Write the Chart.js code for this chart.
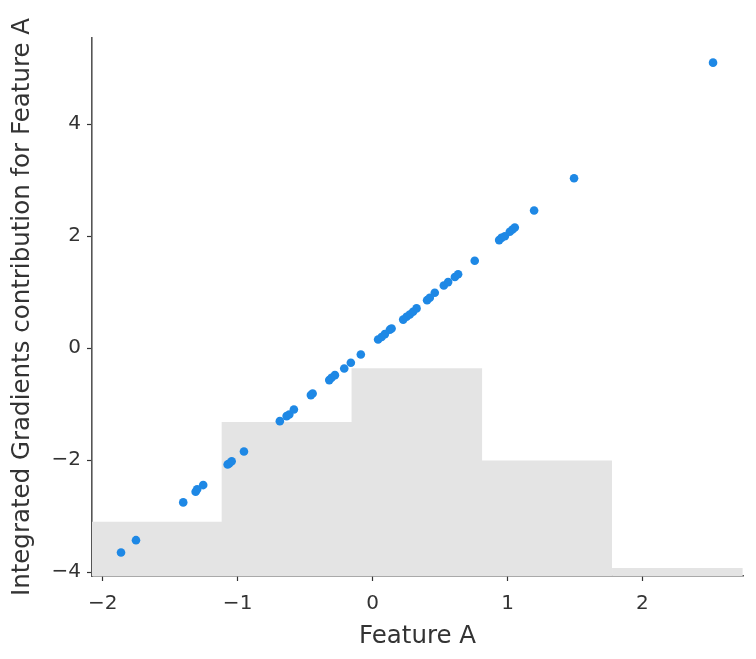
<!DOCTYPE html>
<html>
<head>
<meta charset="utf-8">
<script src="https://cdn.jsdelivr.net/npm/chart.js@4.4.1/dist/chart.umd.min.js"></script>
<style>
  html, body { margin: 0; padding: 0; background: #fff; }
  #wrap { width: 756px; height: 659px; }
</style>
</head>
<body>
<div id="wrap"><canvas id="chart" width="756" height="659"></canvas></div>
<script>
// Feature A values and their Integrated Gradients contributions
const featureA = [
  -1.864, -1.753, -1.403, -1.311, -1.300, -1.255, -1.074, -1.062, -1.044, -0.953,
  -0.687, -0.637, -0.617, -0.583, -0.457, -0.444, -0.321, -0.304, -0.279, -0.210,
  -0.161, -0.087, 0.041, 0.067, 0.091, 0.128, 0.141, 0.227, 0.252, 0.276,
  0.300, 0.326, 0.404, 0.424, 0.461, 0.528, 0.560, 0.610, 0.634, 0.757,
  0.938, 0.955, 0.980, 1.017, 1.037, 1.054, 1.197, 1.493, 2.523
];
const contribution = [
  -3.65, -3.43, -2.755, -2.566, -2.52, -2.446, -2.077, -2.06, -2.02, -1.845,
  -1.304, -1.214, -1.185, -1.095, -0.839, -0.81, -0.571, -0.53, -0.482, -0.363,
  -0.262, -0.113, 0.155, 0.20, 0.25, 0.33, 0.35, 0.51, 0.56, 0.60,
  0.65, 0.71, 0.857, 0.90, 0.99, 1.12, 1.18, 1.27, 1.32, 1.56,
  1.93, 1.97, 2.0, 2.08, 2.12, 2.155, 2.46, 3.036, 5.10
];

// background histogram of Feature A
const binEdges = [-2.079, -1.116, -0.153, 0.809, 1.772, 2.745];
const binCounts = [7, 20, 27, 15, 1];
const sampleCount = 70;

const xTicks = [-2, -1, 0, 1, 2];
const yTicks = [-4, -2, 0, 2, 4];
const yRange = [-4.07, 5.54];

const minus = v => String(v).replace('-', '\u2212');
const tickFont = { family: 'DejaVu Sans', size: 20 };
const titleFont = { family: 'DejaVu Sans', size: 24.5 };

const points = featureA.map((x, i) => ({ x: x, y: contribution[i] }));
const bars = binCounts.map((c, i) => ({ x: (binEdges[i] + binEdges[i + 1]) / 2, y: c }));

new Chart(document.getElementById('chart'), {
    type: 'scatter',
    data: {
        datasets: [
            {
                type: 'bar',
                data: bars,
                yAxisID: 'y2',
                backgroundColor: 'rgb(228,228,228)',
                barPercentage: 1,
                categoryPercentage: 1,
                borderWidth: 0,
                order: 2
            },
            {
                data: points,
                backgroundColor: '#1e88e5',
                borderWidth: 0,
                pointRadius: 4.3,
                order: 1
            }
        ]
    },
    options: {
        responsive: false,
        animation: false,
        layout: { padding: { top: 38, right: 13, left: 0, bottom: 0 } },
        plugins: { legend: { display: false }, tooltip: { enabled: false } },
        scales: {
            x: {
                type: 'linear',
                offset: false,
                min: binEdges[0],
                max: binEdges[binEdges.length - 1],
                afterBuildTicks: s => { s.ticks = xTicks.map(v => ({ value: v })); },
                afterFit: s => { s.height = 83; },
                grid: { offset: false, drawOnChartArea: false, color: '#333', tickLength: 5, tickWidth: 1.2 },
                border: { color: '#555', width: 1.6 },
                ticks: { color: '#333', font: tickFont, padding: 11, callback: minus },
                title: { display: true, text: 'Feature A', color: '#333', font: titleFont, padding: { top: 0, bottom: 8 } }
            },
            y: {
                min: yRange[0],
                max: yRange[1],
                afterBuildTicks: s => { s.ticks = yTicks.map(v => ({ value: v })); },
                afterFit: s => { s.width = 92; },
                grid: { drawOnChartArea: false, color: '#333', tickLength: 5, tickWidth: 1.2 },
                border: { color: '#555', width: 1.6 },
                ticks: { color: '#333', font: tickFont, padding: 6, callback: minus },
                title: { display: true, text: 'Integrated Gradients contribution for Feature A', color: '#333', font: titleFont, padding: { top: 8, bottom: 0 } }
            },
            y2: {
                display: false,
                min: 0,
                max: sampleCount
            }
        }
    }
});
</script>
</body>
</html>
